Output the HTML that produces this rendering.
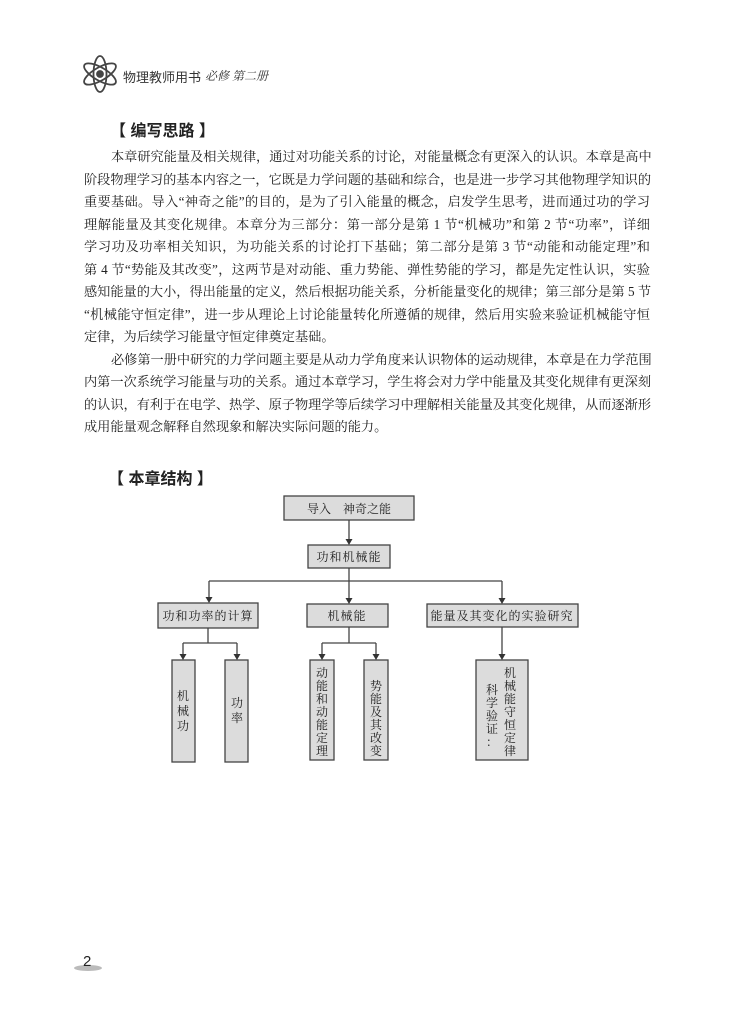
<!DOCTYPE html>
<html><head><meta charset="utf-8"><style>
body{margin:0;width:730px;height:1024px;background:#fff;position:relative;overflow:hidden;font-family:"Liberation Serif","Noto Serif CJK SC",serif;color:#222}
.ln{position:absolute;left:84px;width:566px;font-size:13.2px;line-height:16px;text-align:justify;text-align-last:justify;white-space:nowrap}
.ln.l{text-align-last:left}
.h{position:absolute;font-family:"Liberation Sans","Noto Sans CJK SC",sans-serif;font-size:16px;font-weight:bold;color:#222}
svg text{font-family:"Liberation Serif","Noto Serif CJK SC",serif}
</style></head><body>
<svg style="position:absolute;left:0;top:0" width="730" height="1024">
<g fill="none" stroke="#444" stroke-width="1.8" transform="translate(100,74)">
<ellipse rx="18" ry="6.5" transform="rotate(30)"/><ellipse rx="18" ry="6.5" transform="rotate(-30)"/><ellipse rx="18" ry="6.5" transform="rotate(90)"/>
<circle r="3" fill="#444"/></g>
<ellipse cx="88" cy="968" rx="14" ry="3" fill="#bbb"/>
<g stroke="#444" stroke-width="1.3" fill="#dcdcdc">
<rect x="284" y="496" width="130" height="24"/>
<rect x="308" y="545" width="82" height="23"/>
<rect x="158" y="603" width="100" height="25"/>
<rect x="307" y="604" width="81" height="23"/>
<rect x="427" y="604" width="151" height="23"/>
<rect x="172" y="660" width="23" height="102"/>
<rect x="225" y="660" width="23" height="102"/>
<rect x="310" y="660" width="24" height="100"/>
<rect x="364" y="660" width="24" height="100"/>
<rect x="476" y="660" width="52" height="100"/>
</g>
<g stroke="#444" stroke-width="1.3" fill="none">
<path d="M349 520V540M349 568V598M209 581H502M209 581V598M502 581V598M208 628V643M183 643H237M183 643V655M237 643V655M349 627V643M322 643H376M322 643V655M376 643V655M502 627V655"/>
</g>
<g fill="#333">
<path d="M345.5 539h7l-3.5 6z"/><path d="M345.5 598h7l-3.5 6z"/><path d="M205.5 597h7l-3.5 6z"/><path d="M498.5 598h7l-3.5 6z"/>
<path d="M179.5 654h7l-3.5 6z"/><path d="M233.5 654h7l-3.5 6z"/><path d="M318.5 654h7l-3.5 6z"/><path d="M372.5 654h7l-3.5 6z"/><path d="M498.5 654h7l-3.5 6z"/>
</g>
<g font-size="12" fill="#222" text-anchor="middle">
<text x="349" y="513">导入　神奇之能</text>
<text x="349" y="561" letter-spacing="1">功和机械能</text>
<text x="208" y="620" letter-spacing="1">功和功率的计算</text>
<text x="347" y="620" letter-spacing="1">机械能</text>
<text x="502" y="620" letter-spacing="1">能量及其变化的实验研究</text>
</g>
<g font-size="12" fill="#222" text-anchor="middle">
<text x="183" y="700">机</text><text x="183" y="715">械</text><text x="183" y="730">功</text>
<text x="237" y="707">功</text><text x="237" y="722">率</text>
<text x="322" y="677">动</text><text x="322" y="690">能</text><text x="322" y="703">和</text><text x="322" y="716">动</text><text x="322" y="729">能</text><text x="322" y="742">定</text><text x="322" y="755">理</text>
<text x="376" y="690">势</text><text x="376" y="703">能</text><text x="376" y="716">及</text><text x="376" y="729">其</text><text x="376" y="742">改</text><text x="376" y="755">变</text>
<text x="510" y="677">机</text><text x="510" y="690">械</text><text x="510" y="703">能</text><text x="510" y="716">守</text><text x="510" y="729">恒</text><text x="510" y="742">定</text><text x="510" y="755">律</text>
<text x="492" y="694">科</text><text x="492" y="707">学</text><text x="492" y="720">验</text><text x="492" y="733">证</text><text x="492" y="746">：</text>
</g>
</svg>
<div style="position:absolute;left:123px;top:67px;font-family:'Liberation Sans','Noto Sans CJK SC',sans-serif;font-size:13px;color:#333">物理教师用书</div>
<div style="position:absolute;left:205px;top:67px;font-size:12px;color:#333;font-style:italic">必修 第二册</div>
<div style="position:absolute;left:83px;top:953px;font-family:'Liberation Sans',sans-serif;font-size:15px;color:#222">2</div>
<div class="h" style="left:110px;top:117px">【 编写思路 】</div>
<div class="ln" style="top:149px;padding-left:27px;width:539px">本章研究能量及相关规律，通过对功能关系的讨论，对能量概念有更深入的认识。本章是高中</div>
<div class="ln" style="top:172px">阶段物理学习的基本内容之一，它既是力学问题的基础和综合，也是进一步学习其他物理学知识的</div>
<div class="ln" style="top:194px">重要基础。导入“神奇之能”的目的，是为了引入能量的概念，启发学生思考，进而通过功的学习</div>
<div class="ln" style="top:217px">理解能量及其变化规律。本章分为三部分：第一部分是第 1 节“机械功”和第 2 节“功率”，详细</div>
<div class="ln" style="top:239px">学习功及功率相关知识，为功能关系的讨论打下基础；第二部分是第 3 节“动能和动能定理”和</div>
<div class="ln" style="top:262px">第 4 节“势能及其改变”，这两节是对动能、重力势能、弹性势能的学习，都是先定性认识，实验</div>
<div class="ln" style="top:284px">感知能量的大小，得出能量的定义，然后根据功能关系，分析能量变化的规律；第三部分是第 5 节</div>
<div class="ln" style="top:307px">“机械能守恒定律”，进一步从理论上讨论能量转化所遵循的规律，然后用实验来验证机械能守恒</div>
<div class="ln l" style="top:329px">定律，为后续学习能量守恒定律奠定基础。</div>
<div class="ln" style="top:352px;padding-left:27px;width:539px">必修第一册中研究的力学问题主要是从动力学角度来认识物体的运动规律，本章是在力学范围</div>
<div class="ln" style="top:374px">内第一次系统学习能量与功的关系。通过本章学习，学生将会对力学中能量及其变化规律有更深刻</div>
<div class="ln" style="top:397px">的认识，有利于在电学、热学、原子物理学等后续学习中理解相关能量及其变化规律，从而逐渐形</div>
<div class="ln l" style="top:419px">成用能量观念解释自然现象和解决实际问题的能力。</div>
<div class="h" style="left:108px;top:465px">【 本章结构 】</div>
</body></html>
